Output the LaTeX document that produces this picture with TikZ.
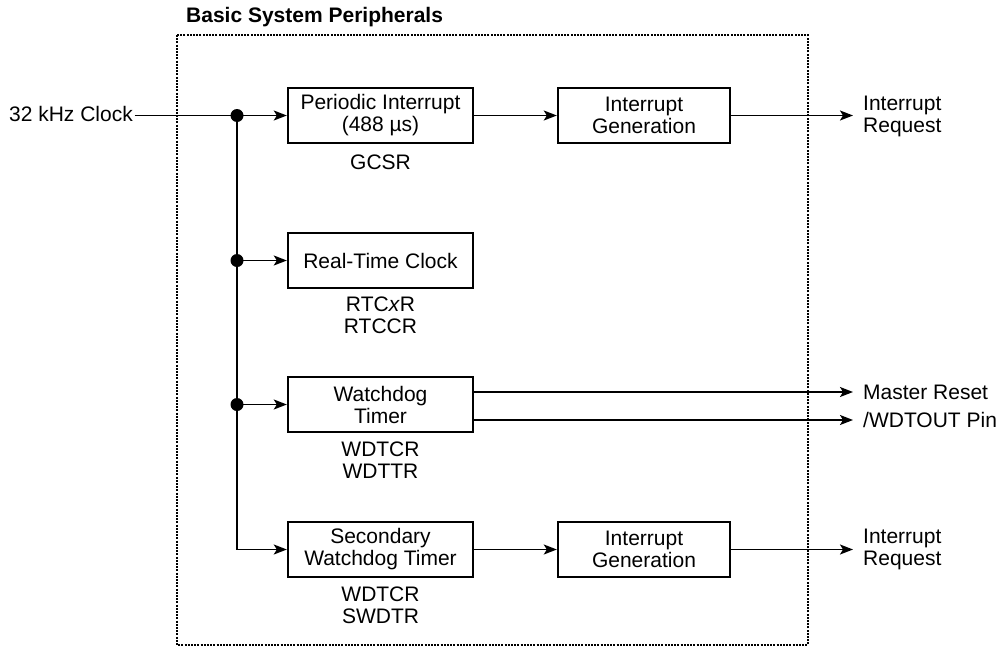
\documentclass[tikz,border=0pt]{standalone}
\usepackage{fontspec}
\setmainfont{Liberation Sans}
\usetikzlibrary{arrows.meta}
\begin{document}
\begin{tikzpicture}[x=1pt,y=-1pt,
  txt/.style={font=\fontsize{21}{22}\selectfont, align=center, inner sep=0pt},
  blk/.style={draw, line width=2.4pt, minimum height=55pt, font=\fontsize{21}{22}\selectfont, align=center, inner sep=0pt},
  conn/.style={line width=1.6pt},
  arr/.style={conn, -{Stealth[length=13pt,width=10pt,inset=3pt]}},
  dot/.style={circle, fill, inner sep=0pt, minimum size=13pt}]
\useasboundingbox (0,0) rectangle (1001,648);
% title and border
\node[txt, font=\fontsize{21}{22}\selectfont\bfseries, anchor=west] (title) at (186,17) {Basic System Peripherals};
\draw[line width=1.6pt, dash pattern=on 2pt off 1.2pt] (177,35) rectangle (808,645);
% input
\node[txt, anchor=east] (clk) at (133,114) {32 kHz Clock};
% boxes
\node[blk, minimum width=185pt] (pi) at (380.5,115.5) {Periodic Interrupt\\(488 µs)};
\node[blk, minimum width=172pt] (ig1) at (644,115.5) {Interrupt\\Generation};
\node[blk, minimum width=185pt] (rtc) at (380.5,260.5) {Real-Time Clock};
\node[blk, minimum width=185pt] (wd) at (380.5,404.5) {Watchdog\\Timer};
\node[blk, minimum width=185pt] (swd) at (380.5,549.5) {Secondary\\Watchdog Timer};
\node[blk, minimum width=172pt] (ig2) at (644,549.5) {Interrupt\\Generation};
% register labels
\node[txt] (l1) at (380.5,162) {GCSR};
\node[txt] (l2) at (380.5,315.5) {RTC\textit{x}R\\RTCCR};
\node[txt] (l3) at (380.5,460) {WDTCR\\WDTTR};
\node[txt] (l4) at (380.5,605.5) {WDTCR\\SWDTR};
% outputs
\node[txt, anchor=west, align=left] (o1) at (863,116) {Interrupt\\Request};
\node[txt, anchor=west] (o2) at (863,392) {Master Reset};
\node[txt, anchor=west] (o3) at (863,420) {/WDTOUT Pin};
\node[txt, anchor=west, align=left] (o4) at (863,549.5) {Interrupt\\Request};
% junctions
\node[dot] (j1) at (237,115.5) {};
\node[dot] (j2) at (237,260.5) {};
\node[dot] (j3) at (237,404.5) {};
\coordinate (c4) at (237,549.5);
\coordinate (e2) at (853,392);
\coordinate (e3) at (853,420);
% connectors
\draw[conn] (clk.east) ++(1.5,1.5) -- (j1.center);
\draw[conn] (j1.center) -- (c4);
\draw[arr] (j1.center) -- (pi.west);
\draw[arr] (j2.center) -- (rtc.west);
\draw[arr] (j3.center) -- (wd.west);
\draw[arr] (c4) -- (swd.west);
\draw[arr] (pi.east) -- (ig1.west);
\draw[arr] (swd.east) -- (ig2.west);
\draw[arr] (ig1.east) -- (ig1.east -| e2);
\draw[arr] (ig2.east) -- (ig2.east -| e2);
\draw[arr] (wd.east |- e2) -- (e2);
\draw[arr] (wd.east |- e3) -- (e3);
\end{tikzpicture}
\end{document}
